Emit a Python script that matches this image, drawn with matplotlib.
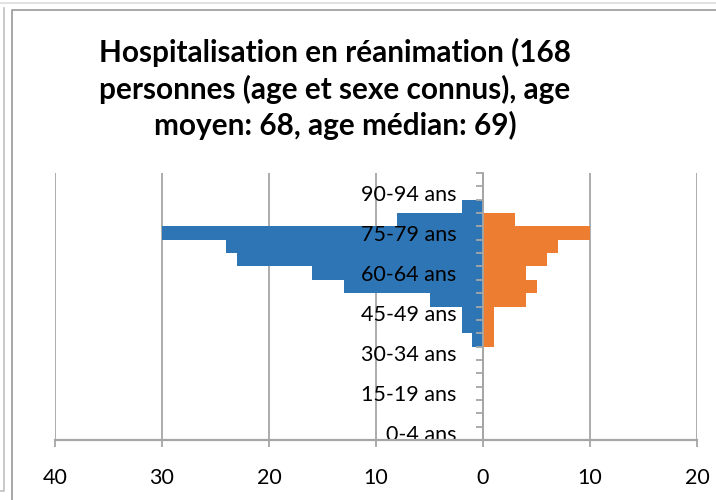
import matplotlib
matplotlib.use('Agg')
import matplotlib.pyplot as plt
from matplotlib.lines import Line2D
from matplotlib.ticker import FuncFormatter, FixedLocator

# data
categories = ['0-4 ans', '5-9 ans', '10-14 ans', '15-19 ans', '20-24 ans',
              '25-29 ans', '30-34 ans', '35-39 ans', '40-44 ans', '45-49 ans',
              '50-54 ans', '55-59 ans', '60-64 ans', '65-69 ans', '70-74 ans',
              '75-79 ans', '80-84 ans', '85-89 ans', '90-94 ans', '95-99 ans']
hommes = [0, 0, 0, 0, 0, 0, 0, 1, 2, 2, 5, 13, 16, 23, 24, 30, 8, 2, 0, 0]
femmes = [0, 0, 0, 0, 0, 0, 0, 1, 1, 1, 4, 5, 4, 6, 7, 10, 3, 0, 0, 0]
xticks = [-40, -30, -20, -10, 0, 10, 20]

title = ('Hospitalisation en réanimation (168\n'
         'personnes (age et sexe connus), age\n'
         'moyen: 68, age médian: 69)')

plt.rcParams['font.family'] = ['Lato', 'DejaVu Sans']
grey = '#a6a6a6'

fig = plt.figure(figsize=(7.16, 5.0), dpi=100)
ax = fig.add_axes([55 / 716, 60 / 500, 642 / 716, 267 / 500])

pos = list(range(len(categories)))
ax.barh(pos, [-v for v in hommes], height=1.0, color='#2e75b6', zorder=1)
ax.barh(pos, femmes, height=1.0, color='#ed7d31', zorder=1)

# vertical gridlines under the bars
for x in xticks:
    ax.axvline(x, color=grey, lw=1.3, zorder=0)

ax.set_xlim(-40, 20)
ax.set_ylim(-0.5, len(categories) - 0.5)

ax.spines['top'].set_visible(False)
ax.spines['right'].set_visible(False)
ax.spines['left'].set_position(('data', 0))
ax.spines['left'].set_color(grey)
ax.spines['left'].set_linewidth(1.3)
ax.spines['bottom'].set_color(grey)
ax.spines['bottom'].set_linewidth(1.6)

ax.xaxis.set_major_locator(FixedLocator(xticks))
ax.xaxis.set_major_formatter(FuncFormatter(lambda v, p: '%d' % abs(v)))
ax.tick_params(axis='x', direction='out', length=5, width=1.3, color=grey,
               labelsize=15.5, pad=15)

ax.set_yticks(pos[::3])
ax.set_yticklabels(categories[::3])
ax.set_yticks([p - 0.5 for p in pos] + [len(pos) - 0.5], minor=True)
ax.tick_params(axis='y', which='major', length=0, labelsize=15.5, pad=19)
ax.tick_params(axis='y', which='minor', direction='out', length=5, width=1.3,
               color=grey)

fig.text(335 / 716, 1 - 89 / 500, title, ha='center', va='center',
         fontsize=21.4, fontweight='bold', linespacing=1.31)

# frames around the chart area
fig.add_artist(Line2D([0, 1], [1 - 3 / 500, 1 - 3 / 500], color='#dddddd', lw=1.2))
fig.add_artist(Line2D([4 / 716, 4 / 716, 0], [1 - 8 / 500, 1 - 491 / 500, 1 - 491 / 500],
                      color='#c0c0c0', lw=1.2))
fig.add_artist(Line2D([12 / 716, 12 / 716, 1], [0, 1 - 10 / 500, 1 - 10 / 500],
                      color='#9a9a9a', lw=1.2))

fig.savefig('out.png', dpi=100)
